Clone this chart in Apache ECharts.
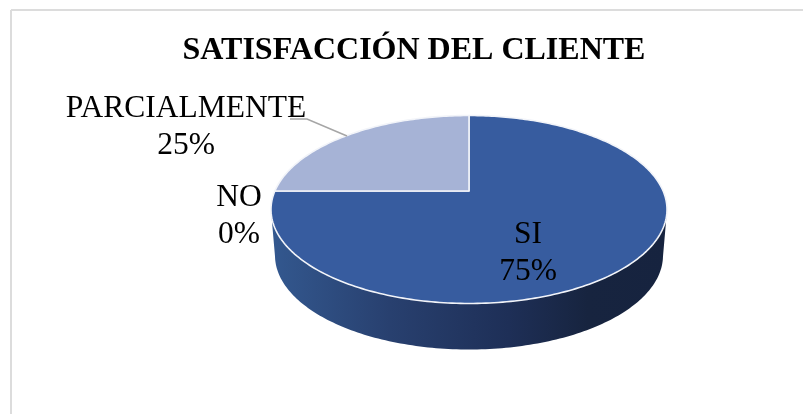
<!DOCTYPE html>
<html><head><meta charset="utf-8">
<style>html,body{margin:0;padding:0;background:#fff}#c{width:803px;height:414px}</style>
<script src="https://cdn.jsdelivr.net/npm/echarts@6/dist/echarts.min.js"></script>
</head><body><div id="c"></div>
<script>
const categories = ['SI', 'NO', 'PARCIALMENTE'];
const values = [75, 0, 25];
const chartTitle = 'SATISFACCIÓN DEL CLIENTE';
const sliceColors = ['#375c9f', '#203864', '#a6b3d6'];

const labelFont = '"Liberation Serif"';
const geo = {cx: 469, cy: 209.5, rx: 198, ry: 94, k: -0.197, depth: 46, bottomScale: 194 / 198};
const labelPos = [[528, 253], [239, 216], [186, 127]];
const total = values.reduce((a, b) => a + b, 0);

// Tilted disc: a circle seen in perspective, so the slice apex sits above the ellipse centre.
function project(deg) {
  const a = deg * Math.PI / 180, u = Math.sin(a), v = -Math.cos(a);
  const d = 1 + geo.k * v;
  return [geo.cx + geo.rx * u * Math.sqrt(1 - geo.k * geo.k) / d,
          geo.cy + geo.ry * (v + geo.k) / d];
}
function renderSlice(params, api) {
  const i = params.dataIndex;
  const before = values.slice(0, i).reduce((a, b) => a + b, 0);
  const a0 = before / total * 360, a1 = (before + api.value(0)) / total * 360;
  const arc = [];
  const n = Math.max(1, Math.ceil(a1 - a0));
  for (let s = 0; s <= n; s++) arc.push(project(a0 + (a1 - a0) * s / n));
  const front = arc.filter(p => p[1] >= geo.cy);
  const children = [];
  if (front.length > 1) {
    const bottom = front.map(p => [geo.cx + (p[0] - geo.cx) * geo.bottomScale, p[1] + geo.depth]).reverse();
    children.push({
      type: 'polygon', shape: {points: front.concat(bottom)},
      style: {fill: new echarts.graphic.LinearGradient(0, 0, 1, 0, [
        {offset: 0, color: '#33588f'}, {offset: 0.3, color: '#28406f'},
        {offset: 0.6, color: '#1e2f57'}, {offset: 0.8, color: '#17243f'}, {offset: 1, color: '#16233f'}
      ])}
    });
  }
  if (a1 > a0) {
    const centre = [geo.cx, geo.cy + geo.ry * geo.k];
    children.push({
      type: 'polygon', shape: {points: [centre].concat(arc)},
      style: {fill: sliceColors[i], stroke: '#f2f4f9', lineWidth: 1.6, lineJoin: 'round'}
    });
  }
  return {type: 'group', children};
}
function renderLabel(params, api) {
  const i = params.dataIndex;
  return {
    type: 'text', x: labelPos[i][0], y: labelPos[i][1],
    style: {
      text: categories[i] + '\n' + Math.round(api.value(0) / total * 100) + '%',
      font: '31.5px ' + labelFont, lineHeight: 37, fill: '#000',
      align: 'center', verticalAlign: 'middle'
    }
  };
}
const chart = echarts.init(document.getElementById('c'), null, {renderer: 'canvas'});
chart.setOption({
  animation: false,
  backgroundColor: '#fff',
  title: {
    text: chartTitle, left: 413.5, top: 30, textAlign: 'center',
    textStyle: {fontFamily: labelFont, fontWeight: 'bold', fontSize: 32, color: '#000'}
  },
  graphic: [
    {type: 'line', shape: {x1: 11, y1: 10, x2: 803, y2: 10}, style: {stroke: '#dcdcdc', lineWidth: 2}},
    {type: 'line', shape: {x1: 11, y1: 10, x2: 11, y2: 414}, style: {stroke: '#dcdcdc', lineWidth: 2}},
    {type: 'polyline', shape: {points: [[290, 119], [307, 119], [347, 136]]}, style: {stroke: '#a6a6a6', lineWidth: 1.6, fill: null}, z: 5}
  ],
  series: [
    {type: 'custom', coordinateSystem: 'none', renderItem: renderSlice, data: values.map(v => [v]), z: 2, silent: true},
    {type: 'custom', coordinateSystem: 'none', renderItem: renderLabel, data: values.map(v => [v]), z: 3, silent: true}
  ]
});
chart.setOption({title: {left: 409}});
</script></body></html>
